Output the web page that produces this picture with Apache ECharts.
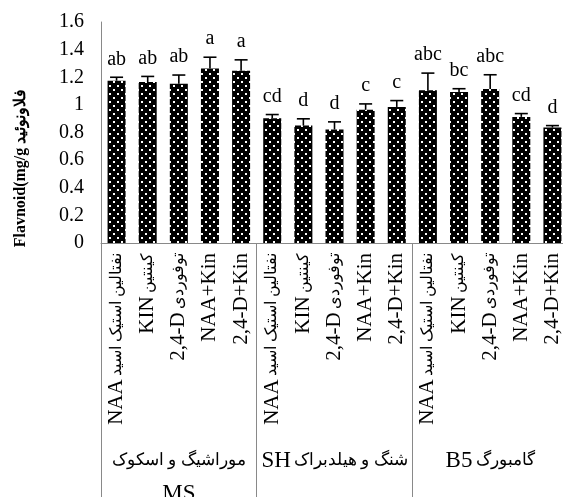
<!DOCTYPE html>
<html><head><meta charset="utf-8">
<script src="https://cdn.jsdelivr.net/npm/echarts@6/dist/echarts.min.js"></script>
<style>html,body{margin:0;padding:0;background:#fff}#c{width:563px;height:497px}</style>
</head><body><div id="c"></div>
<script>
// Each label: [Latin part, Persian part] in visual left-to-right order
const categories = [
  ['NAA','نفتالین استیک اسید'],['KIN','کینتین'],['2,4-D','توفوردی'],['NAA+Kin',''],['2,4-D+Kin',''],
  ['NAA','نفتالین استیک اسید'],['KIN','کینتین'],['2,4-D','توفوردی'],['NAA+Kin',''],['2,4-D+Kin',''],
  ['NAA','نفتالین استیک اسید'],['KIN','کینتین'],['2,4-D','توفوردی'],['NAA+Kin',''],['2,4-D+Kin','']
];
const groups = ['{p|موراشیگ و اسکوک}\n{l|MS}', '{l|SH} {p|شنگ و هیلدبراک}', '{l|B5} {p|گامبورگ}'];
const means = [1.175,1.165,1.153,1.263,1.247, 0.903,0.850,0.822,0.964,0.985, 1.105,1.093,1.115,0.913,0.836];
const errors = [0.025,0.041,0.063,0.082,0.079, 0.027,0.049,0.055,0.043,0.046, 0.125,0.024,0.103,0.024,0.014];
const letters = ['ab','ab','ab','a','a','cd','d','d','c','c','abc','bc','abc','cd','d'];
const yTicks = {min:0, max:1.6, interval:0.2};
const yTitle = 'Flavnoid(mg/g فلاونوئید';

const FONT = '"Liberation Serif","Times New Roman","DejaVu Serif",serif';
const GREY = '#898989';

const pc = document.createElement('canvas');
pc.width = 8; pc.height = 8;
const pctx = pc.getContext('2d');
pctx.fillStyle = '#000'; pctx.fillRect(0,0,8,8);
pctx.fillStyle = '#fff';
pctx.fillRect(1,1,2,2); pctx.fillRect(5,5,2,2);

const chart = echarts.init(document.getElementById('c'), null, {renderer:'canvas'});
const errData = means.map((m,i)=>[i, m, m+errors[i]]);
const catKeys = categories.map((c,i)=>String(i));

chart.setOption({
  backgroundColor:'#fff',
  animation:false,
  grid:{left:101, top:22, width:467, height:221, outerBoundsMode:'none', containLabel:false},
  xAxis:[{
    type:'category', data:catKeys,
    axisLine:{show:true, lineStyle:{color:GREY, width:1}},
    axisTick:{show:false},
    axisLabel:{rotate:90, interval:0, margin:10, color:'#000',
      formatter:function(v){ const c = categories[+v]; return c[1] ? '{l|'+c[0]+'} {p|'+c[1]+'}' : '{l|'+c[0]+'}'; },
      rich:{l:{fontFamily:FONT, fontSize:21, color:'#000'}, p:{fontFamily:FONT, fontSize:16, color:'#000'}}
    }
  },{
    type:'category', data:groups, position:'bottom',
    axisLine:{show:false},
    axisTick:{show:true, length:260, lineStyle:{color:GREY, width:1}},
    axisLabel:{interval:0, margin:201, color:'#000', lineHeight:33,
      rich:{l:{fontFamily:FONT, fontSize:23, color:'#000', lineHeight:33}, p:{fontFamily:FONT, fontSize:17, color:'#000', lineHeight:33}}
    }
  }],
  yAxis:{
    type:'value', min:yTicks.min, max:yTicks.max, interval:yTicks.interval,
    axisLine:{show:true, lineStyle:{color:GREY, width:1}},
    axisTick:{show:false}, splitLine:{show:false},
    axisLabel:{margin:17, color:'#000', fontFamily:FONT, fontSize:20}
  },
  graphic:[{
    type:'text', x:21, y:168, rotation:Math.PI/2,
    style:{text:yTitle, textAlign:'center', textVerticalAlign:'middle',
      font:'bold 16px ' + FONT, fill:'#000'}
  }],
  series:[{
    type:'bar', data:means, barWidth:18, xAxisIndex:0,
    itemStyle:{color:{image:pc, repeat:'repeat'}}
  },{
    type:'custom', xAxisIndex:0, data:errData, z:5,
    renderItem:function(params, api){
      const base = api.coord([api.value(0), api.value(1)]);
      const top = api.coord([api.value(0), api.value(2)]);
      const x = base[0], hw = 6.5;
      const st = {stroke:'#000', lineWidth:1.6};
      return {type:'group', children:[
        {type:'line', shape:{x1:x, y1:base[1], x2:x, y2:top[1]}, style:st},
        {type:'line', shape:{x1:x-hw, y1:top[1], x2:x+hw, y2:top[1]}, style:st},
        {type:'text', x:x, y:top[1]-8, style:{text:letters[params.dataIndex],
          textAlign:'center', textVerticalAlign:'bottom', font:'20px ' + FONT, fill:'#000'}}
      ]};
    }
  }]
});
</script></body></html>
